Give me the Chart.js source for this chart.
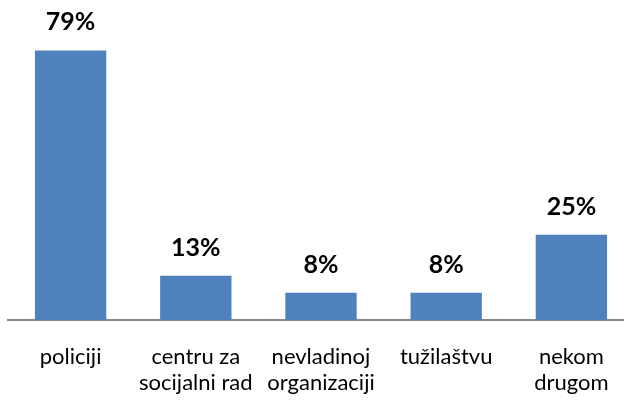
<!DOCTYPE html>
<html>
<head>
<meta charset="utf-8">
<script src="https://cdn.jsdelivr.net/npm/chart.js@4/dist/chart.umd.min.js"></script>
<style>
  html, body { margin: 0; padding: 0; background: #fff; overflow: hidden; }
  #wrap { width: 640px; height: 403px; }
</style>
</head>
<body>
<div id="wrap"><canvas id="chart" width="640" height="403"></canvas></div>
<script>
// categories and values
const categories = [
    ['policiji'],
    ['centru za', 'socijalni rad'],
    ['nevladinoj', 'organizaciji'],
    ['tužilaštvu'],
    ['nekom', 'drugom']
];
const values = [79, 13, 8, 8, 25];

// draws the bold "xx%" label above each bar
const valueLabels = {
    id: 'valueLabels',
    afterDatasetsDraw(chart) {
        const ctx = chart.ctx;
        const meta = chart.getDatasetMeta(0);
        ctx.save();
        ctx.font = 'bold 25px Lato, "Open Sans", sans-serif';
        ctx.fillStyle = '#000';
        ctx.textAlign = 'center';
        ctx.textBaseline = 'middle';
        meta.data.forEach((bar, i) => {
            ctx.fillText(values[i] + '%', bar.x, bar.y - 28);
        });
        ctx.restore();
    }
};

new Chart(document.getElementById('chart').getContext('2d'), {
    type: 'bar',
    data: {
        labels: categories,
        datasets: [{
            data: values,
            backgroundColor: '#4F81BD',
            borderWidth: 0,
            categoryPercentage: 1,
            barPercentage: 0.57
        }]
    },
    options: {
        responsive: false,
        animation: false,
        layout: { padding: { left: 8, right: 6, top: 47, bottom: 0 } },
        plugins: { legend: { display: false }, tooltip: { enabled: false } },
        scales: {
            y: { display: false, min: 0, max: 80 },
            x: {
                grid: { display: false, drawTicks: false },
                border: { display: true, color: '#888888', width: 2 },
                ticks: {
                    color: '#000',
                    padding: 24,
                    maxRotation: 0,
                    autoSkip: false,
                    font: { family: 'Lato, "Open Sans", sans-serif', size: 22, lineHeight: '26px' }
                },
                afterFit(scale) { scale.height = 83; }
            }
        }
    },
    plugins: [valueLabels]
});
</script>
</body>
</html>
